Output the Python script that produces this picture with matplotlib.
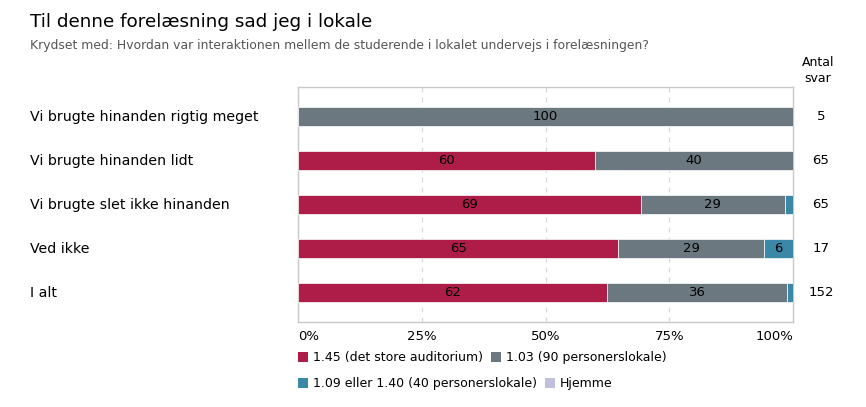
import matplotlib.pyplot as plt
import matplotlib.transforms as mtransforms
from matplotlib.patches import Rectangle
import numpy as np

kategorier = ["Vi brugte hinanden rigtig meget", "Vi brugte hinanden lidt",
              "Vi brugte slet ikke hinanden", "Ved ikke", "I alt"]
serier = ["1.45 (det store auditorium)", "1.03 (90 personerslokale)",
          "1.09 eller 1.40 (40 personerslokale)", "Hjemme"]
farver = ["#ad1d48", "#6c7880", "#3a87a6", "#c0c0dc"]
auditorium = [0, 60, 69.2, 64.7, 62.5]
lokale90 = [100, 40, 29.2, 29.4, 36.2]
lokale40 = [0, 0, 1.5, 5.9, 1.3]
hjemme = [0, 0, 0, 0, 0]
antal_svar = [5, 65, 65, 17, 152]
etiketter = [["", "100", "", ""], ["60", "40", "", ""], ["69", "29", "", ""],
             ["65", "29", "6", ""], ["62", "36", "", ""]]
ticks = [0, 25, 50, 75, 100]
tick_labels = ["0%", "25%", "50%", "75%", "100%"]

W, H = 866, 407
fig = plt.figure(figsize=(W / 100, H / 100), dpi=100)
ax = fig.add_axes([298 / W, 1 - 322 / H, (793 - 298) / W, (322 - 87) / H])

y = np.arange(len(kategorier))
data = np.array([auditorium, lokale90, lokale40, hjemme])
venstre = np.zeros(len(kategorier))
for i, vaerdier in enumerate(data):
    ax.barh(y, vaerdier, left=venstre, height=0.43, color=farver[i],
            edgecolor="white", linewidth=0.5, zorder=3)
    for j in range(len(kategorier)):
        if etiketter[j][i]:
            ax.text(venstre[j] + vaerdier[j] / 2, y[j], etiketter[j][i],
                    ha="center", va="center", fontsize=9.5, color="black", zorder=4)
    venstre += vaerdier

ax.set_xlim(0, 100)
ax.set_ylim(4.66, -0.68)
ax.set_yticks([])
ax.set_xticks([])
for t in [25, 50, 75]:
    ax.axvline(t, color="#d8d8d8", linestyle=(0, (4, 4)), linewidth=0.9, zorder=1)
for s in ax.spines.values():
    s.set_color("#c8c8c8")
    s.set_linewidth(1)

# x tick labels
xtrans = mtransforms.blended_transform_factory(ax.transData, fig.transFigure)
for t, lab in zip(ticks, tick_labels):
    ha = "left" if t == 0 else ("right" if t == 100 else "center")
    ax.text(t, 1 - 336 / H, lab, transform=xtrans, ha=ha, va="center", fontsize=9.5)

# kategorier og antal svar
trans = mtransforms.blended_transform_factory(fig.transFigure, ax.transData)
for j, kat in enumerate(kategorier):
    ax.text(30 / W, y[j], kat, transform=trans, ha="left", va="center", fontsize=10.2)
    ax.text(821 / W, y[j], str(antal_svar[j]), transform=trans, ha="center", va="center", fontsize=9.5)
fig.text(818 / W, 1 - 70 / H, "Antal\nsvar", ha="center", va="center", fontsize=9, linespacing=1.3)

fig.text(30 / W, 1 - 22 / H, "Til denne forelæsning sad jeg i lokale", fontsize=13.2,
         ha="left", va="center")
fig.text(30 / W, 1 - 45 / H,
         "Krydset med: Hvordan var interaktionen mellem de studerende i lokalet undervejs i forelæsningen?",
         fontsize=8.9, color="#555555", ha="left", va="center")

# legend
pos = [(298, 357), (491, 357), (298, 383), (545, 383)]
for (px, py), navn, farve in zip(pos, serier, farver):
    fig.add_artist(Rectangle((px / W, 1 - (py + 5) / H), 10 / W, 10 / H,
                             transform=fig.transFigure, facecolor=farve, edgecolor="none"))
    fig.text((px + 15) / W, 1 - py / H, navn, ha="left", va="center", fontsize=9)

plt.savefig("out.png", dpi=100)
